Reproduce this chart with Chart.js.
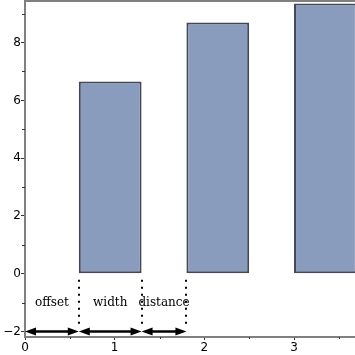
<!DOCTYPE html>
<html>
<head>
<meta charset="utf-8">
<script src="https://cdn.jsdelivr.net/npm/chart.js@4/dist/chart.umd.min.js"></script>
<style>
  html, body { margin: 0; padding: 0; background: #fff; }
  #wrap { width: 355px; height: 355px; }
</style>
</head>
<body>
<div id="wrap"><canvas id="myChart"></canvas></div>
<script>
'use strict';

// bars: where each one starts, how wide, how tall
let barStarts = [ 0.6, 1.8, 3.0 ];
let barWidth = 0.7;
let barHeights = [ 6.65, 8.7, 9.35 ];

// the dimension guides under the first bars
let guideXs = [ 0, 0.6, 1.3, 1.8 ];
let guideLabels = [ 'offset', 'width', 'distance' ];
let guideTextY = -1;
let guideArrowY = -2;

// axes
let xTicks = [ 0, 1, 2, 3 ];
let xMinorTicks = [ 0.5, 1.5, 2.5, 3.5 ];
let yTicks = [ -2, 0, 2, 4, 6, 8 ];
let yMinorTicks = [ -1, 1, 3, 5, 7, 9 ];
let xRange = [ 0, 3.68 ];
let yRange = [ -2.19, 9.44 ];

const axisGray = '#808080';

function minus( v ) {
  return v < 0 ? '\u2212' + ( -v ) : String( v );
}

function arrowHead( ctx, x, y, dir ) {
  ctx.beginPath();
  ctx.moveTo( x, y );
  ctx.lineTo( x + dir * 11, y - 4 );
  ctx.lineTo( x + dir * 11, y + 4 );
  ctx.closePath();
  ctx.fill();
}

const extras = {
  id: 'extras',
  afterDraw( chart ) {
    const ctx = chart.ctx;
    const xs = chart.scales.x;
    const ys = chart.scales.y;
    const area = chart.chartArea;
    ctx.save();

    // top frame line
    ctx.strokeStyle = axisGray;
    ctx.lineWidth = 2;
    ctx.beginPath();
    ctx.moveTo( area.left - 1, area.top );
    ctx.lineTo( area.right, area.top );
    ctx.stroke();

    // minor ticks
    ctx.strokeStyle = '#333';
    ctx.lineWidth = 1;
    for ( let i = 0; i < xMinorTicks.length; i++ ) {
      const px = Math.round( xs.getPixelForValue( xMinorTicks[i] ) ) + 0.5;
      if ( px > area.right ) continue;
      ctx.beginPath();
      ctx.moveTo( px, area.bottom );
      ctx.lineTo( px, area.bottom + 2 );
      ctx.stroke();
    }
    for ( let i = 0; i < yMinorTicks.length; i++ ) {
      const py = Math.round( ys.getPixelForValue( yMinorTicks[i] ) ) + 0.5;
      ctx.beginPath();
      ctx.moveTo( area.left, py );
      ctx.lineTo( area.left - 3, py );
      ctx.stroke();
    }

    const y0 = ys.getPixelForValue( 0 );
    const yArrow = ys.getPixelForValue( guideArrowY );
    const yText = ys.getPixelForValue( guideTextY );

    // dotted drop lines
    ctx.strokeStyle = '#000';
    ctx.lineWidth = 2;
    ctx.setLineDash( [ 2, 5 ] );
    for ( let i = 1; i < guideXs.length; i++ ) {
      const px = Math.round( xs.getPixelForValue( guideXs[i] ) );
      ctx.beginPath();
      ctx.moveTo( px, y0 + 6 );
      ctx.lineTo( px, yArrow - 6 );
      ctx.stroke();
    }
    ctx.setLineDash( [] );

    // double arrows
    ctx.fillStyle = '#000';
    ctx.lineWidth = 2.5;
    for ( let i = 0; i < guideXs.length - 1; i++ ) {
      const a = xs.getPixelForValue( guideXs[i] );
      const b = xs.getPixelForValue( guideXs[i + 1] );
      ctx.beginPath();
      ctx.moveTo( a + 4, yArrow );
      ctx.lineTo( b - 4, yArrow );
      ctx.stroke();
      arrowHead( ctx, a, yArrow, 1 );
      arrowHead( ctx, b, yArrow, -1 );
    }

    // labels
    ctx.font = '12px "DejaVu Serif"';
    ctx.textAlign = 'center';
    ctx.textBaseline = 'middle';
    for ( let i = 0; i < guideLabels.length; i++ ) {
      const mid = ( guideXs[i] + guideXs[i + 1] ) / 2;
      ctx.fillText( guideLabels[i], xs.getPixelForValue( mid ), yText );
    }
    ctx.restore();
  }
};

let points = [];
for ( let i = 0; i < barStarts.length; i++ ) {
  points.push( { x: barStarts[i] + barWidth / 2, y: barHeights[i] } );
}

Chart.defaults.font.family = '"DejaVu Sans"';
Chart.defaults.font.size = 12;
Chart.defaults.color = '#000';

let ctx = document.getElementById( 'myChart' ).getContext( '2d' );
let myChart = new Chart( ctx, {
  type: 'bar',
  data: {
    datasets: [{
      data: points,
      backgroundColor: 'rgb(138, 156, 190)',
      borderColor: 'rgb(68, 72, 84)',
      borderWidth: 2,
      borderSkipped: false,
      categoryPercentage: 1,
      // ruler is one x tick apart, so this gives the bar width in x units
      barPercentage: barWidth
    }]
  },
  options: {
    responsive: true,
    maintainAspectRatio: false,
    animation: false,
    events: [],
    layout: { padding: { top: 1, right: 0, left: 0, bottom: 0 } },
    plugins: {
      legend: { display: false },
      tooltip: { enabled: false }
    },
    scales: {
      x: {
        type: 'linear',
        min: xRange[0],
        max: xRange[1],
        offset: false,
        afterBuildTicks: s => { s.ticks = xTicks.map( v => ( { value: v } ) ); },
        afterFit: s => { s.height = 18; s.paddingLeft = 0; s.paddingRight = 0; },
        grid: {
          display: true,
          drawOnChartArea: false,
          offset: false,
          tickLength: 3,
          tickColor: '#333'
        },
        border: { color: axisGray, width: 2 },
        ticks: { padding: 1, maxRotation: 0, callback: v => minus( v ) }
      },
      y: {
        type: 'linear',
        min: yRange[0],
        max: yRange[1],
        afterBuildTicks: s => { s.ticks = yTicks.map( v => ( { value: v } ) ); },
        afterFit: s => { s.width = 25; s.paddingTop = 0; s.paddingBottom = 0; },
        grid: {
          display: true,
          drawOnChartArea: false,
          tickLength: 4,
          tickColor: '#333'
        },
        border: { color: axisGray, width: 2 },
        ticks: { padding: 0, callback: v => minus( v ) }
      }
    }
  },
  plugins: [ extras ]
} );
</script>
</body>
</html>
